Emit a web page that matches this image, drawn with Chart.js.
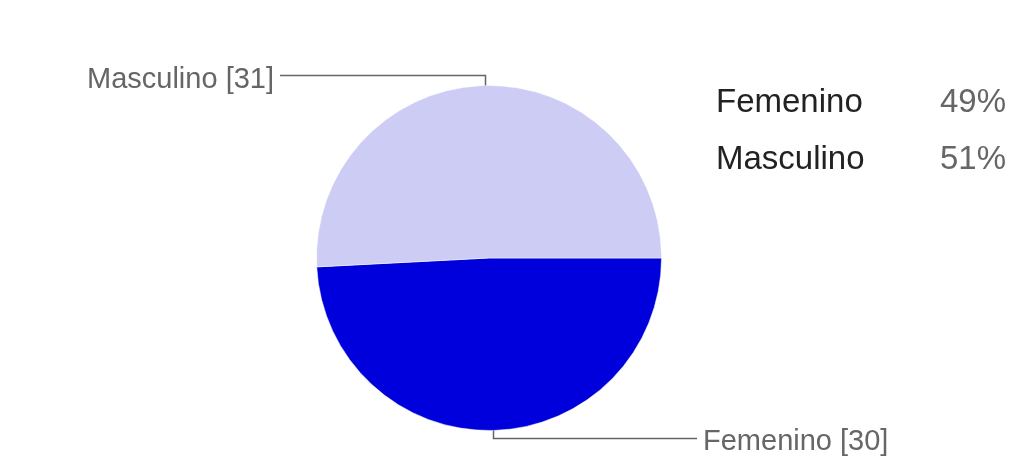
<!DOCTYPE html>
<html>
<head>
<meta charset="utf-8">
<script src="https://cdn.jsdelivr.net/npm/chart.js@4"></script>
<style>
html,body{margin:0;padding:0;background:#fff;}
#wrap{width:1012px;height:458px;position:relative;}
</style>
</head>
<body>
<div id="wrap"><canvas id="c" width="1012" height="458"></canvas></div>
<script>
const categories = ['Femenino', 'Masculino'];
const counts = [30, 31];
const percentLabels = ['49%', '51%'];
const sliceColors = ['#0000DC', '#CCCCF4'];

const calloutPlugin = {
  id: 'callouts',
  afterDatasetsDraw(chart) {
    const ctx = chart.ctx;
    const meta = chart.getDatasetMeta(0);
    ctx.save();
    meta.data.forEach((arc, i) => {
      const p = arc.getProps(['x','y','startAngle','endAngle','outerRadius'], true);
      const mid = (p.startAngle + p.endAngle) / 2;
      const ox = p.x + Math.cos(mid) * p.outerRadius;
      const oy = p.y + Math.sin(mid) * p.outerRadius;
      const up = Math.sin(mid) < 0;
      const ey = up ? oy - 10 : oy + 8;
      const left = up;
      const ex = left ? 280 : 697;
      ctx.strokeStyle = '#666';
      ctx.lineWidth = 1.5;
      ctx.beginPath();
      ctx.moveTo(Math.round(ox)+0.5, oy);
      ctx.lineTo(Math.round(ox)+0.5, ey);
      ctx.lineTo(ex, ey);
      ctx.stroke();
      ctx.font = '29px "Liberation Sans", Arial, sans-serif';
      ctx.fillStyle = '#666';
      ctx.textBaseline = 'alphabetic';
      const txt = categories[i] + ' [' + counts[i] + ']';
      if (left) { ctx.textAlign = 'right'; ctx.fillText(txt, ex - 6, ey + 12); }
      else { ctx.textAlign = 'left'; ctx.fillText(txt, ex + 6, ey + 12); }
    });
    // legend
    ctx.font = '33px "Liberation Sans", Arial, sans-serif';
    categories.forEach((c, i) => {
      const y = 112 + i * 57;
      ctx.textAlign = 'left';
      ctx.fillStyle = '#222';
      ctx.fillText(c, 716, y);
      ctx.textAlign = 'right';
      ctx.fillStyle = '#666';
      ctx.fillText(percentLabels[i], 1006, y);
    });
    ctx.restore();
  }
};

new Chart(document.getElementById('c'), {
  type: 'pie',
  data: {
    labels: categories,
    datasets: [{
      data: counts,
      backgroundColor: sliceColors,
      borderColor: 'rgba(255,255,255,0.5)',
      borderWidth: 1
    }]
  },
  options: {
    responsive: false,
    animation: false,
    rotation: 90,
    layout: { padding: { left: 316, right: 350, top: 85, bottom: 27 } },
    plugins: { legend: { display: false }, tooltip: { enabled: false } }
  },
  plugins: [calloutPlugin]
});
</script>
</body>
</html>
